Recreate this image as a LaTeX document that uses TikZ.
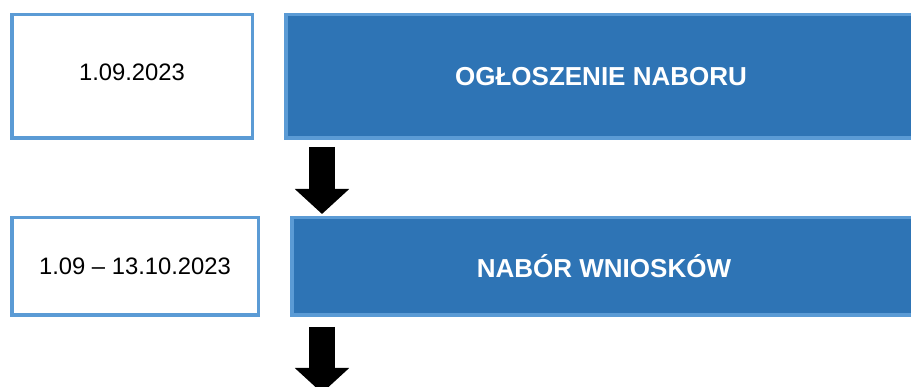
\documentclass[tikz,border=0pt]{standalone}
\usepackage{fontspec}
\setmainfont{Liberation Sans}
\usepackage{tikz}
\usetikzlibrary{arrows.meta}
\definecolor{edgeblue}{HTML}{5B9BD5}
\definecolor{fillblue}{HTML}{2E74B5}

\begin{document}
\begin{tikzpicture}[x=1pt, y=-1pt,
    datebox/.style={draw=edgeblue, line width=3.5pt, fill=white, inner sep=0pt,
        font=\fontsize{23.8}{28}\selectfont},
    stagebox/.style={draw=edgeblue, line width=3.5pt, fill=fillblue, inner sep=0pt,
        text=white, font=\fontsize{26}{30}\selectfont\bfseries},
    blockarrow/.style={line width=26pt, black, -{Triangle[width=53pt, length=25pt]}}]
                \useasboundingbox (0,0) rectangle (911,387);
                \clip (0,0) rectangle (911,387);
                \node[datebox, minimum width=240.5pt, minimum height=123.5pt, text depth=8pt] (d1) at (132,76.5) {1.09.2023};
                \node[stagebox, minimum width=630.5pt, minimum height=123.5pt] (s1) at (601,76.5) {OGŁOSZENIE NABORU};
                \node[datebox, minimum width=246.5pt, minimum height=97.5pt] (d2) at (135,266.5) {1.09 – 13.10.2023};
                \node[stagebox, minimum width=624.5pt, minimum height=97.5pt] (s2) at (604,266.5) {NABÓR WNIOSKÓW};
                \coordinate (ax) at (322,0);
                \coordinate (aend) at (322,393);
                \draw[blockarrow, shorten <=7pt, shorten >=2pt] (s1.south -| ax) -- (s2.north -| ax);
                \draw[blockarrow, shorten <=10pt] (s2.south -| ax) -- (aend);
            \end{tikzpicture}
\end{document}
